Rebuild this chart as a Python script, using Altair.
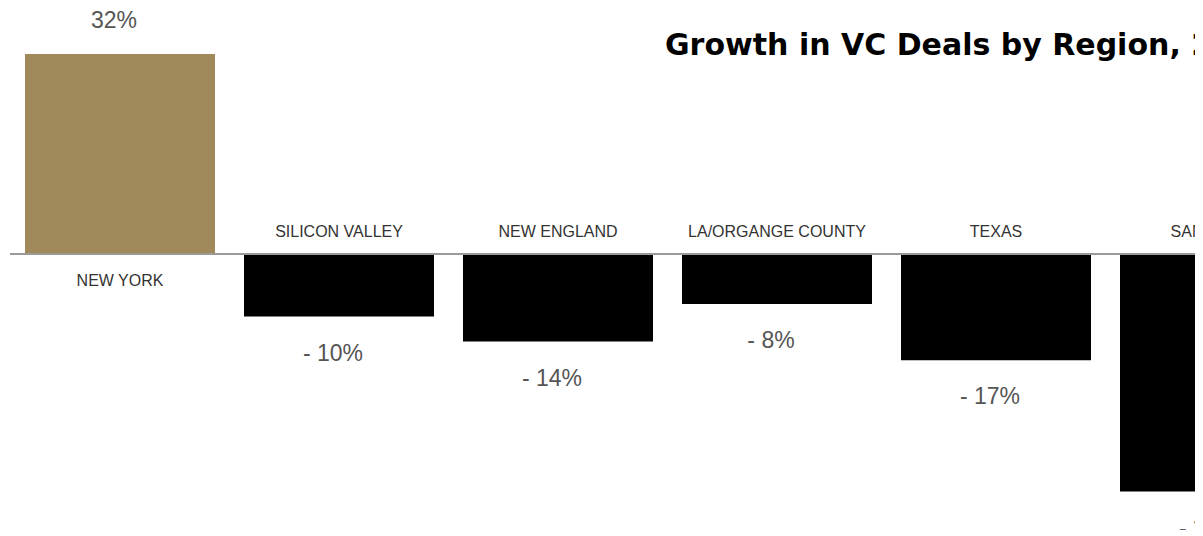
import altair as alt
import pandas as pd

regions = ["NEW YORK", "SILICON VALLEY", "NEW ENGLAND", "LA/ORGANGE COUNTY", "TEXAS", "SAN DIEGO"]
growth = [32, -10, -14, -8, -17, -38]
labels = ["32%", "- 10%", "- 14%", "- 8%", "- 17%", "- 38%"]
title_text = "Growth in VC Deals by Region, 2012"

df = pd.DataFrame({"region": regions, "growth": growth, "label": labels})

W, H = 1187, 522
xscale = alt.Scale(domain=regions, range=[17, 1302], paddingInner=29 / 219, paddingOuter=0)
yscale = alt.Scale(domain=[-(H - 246) / 6.25, 246 / 6.25], nice=False)

x = alt.X("region:N", scale=xscale, sort=regions, axis=None)
base = alt.Chart(df)

bars = base.mark_bar(clip=True).encode(
    x=x,
    y=alt.Y("growth:Q", scale=yscale, axis=None),
    color=alt.condition(alt.datum.growth > 0, alt.value("#A08A5C"), alt.value("#000000")),
)

zero = base.mark_rule(color="#9a9a9a", strokeWidth=2, clip=True).encode(
    x=alt.value(2), x2=alt.value(W), y=alt.datum(0, scale=yscale)
)

txt_val = dict(font="Liberation Sans", fontSize=23, color="#555555",
               baseline="middle", align="center")
val_pos = base.transform_filter(alt.datum.growth > 0).mark_text(dy=-33, dx=-6, **txt_val).encode(
    x=x, y=alt.Y("growth:Q", scale=yscale), text="label:N")
val_neg = base.transform_filter(alt.datum.growth < 0).mark_text(dy=37, dx=-6, **txt_val).encode(
    x=x, y=alt.Y("growth:Q", scale=yscale), text="label:N")

txt_cat = dict(font="Liberation Sans", fontSize=16, color="#333333", clip=True, baseline="middle", align="center")
cat_pos = base.transform_filter(alt.datum.growth > 0).mark_text(dy=27, **txt_cat).encode(
    x=x, y=alt.datum(0, scale=yscale), text="region:N")
cat_neg = base.transform_filter(alt.datum.growth < 0).mark_text(dy=-22, **txt_cat).encode(
    x=x, y=alt.datum(0, scale=yscale), text="region:N")

title = alt.Chart(pd.DataFrame({"t": [title_text]})).mark_text(
    font="DejaVu Sans", fontWeight="bold", fontSize=30, color="#000000", align="left",
    baseline="alphabetic", clip=True
).encode(x=alt.value(657), y=alt.value(47), text="t:N")

chart = alt.layer(bars, zero, val_pos, val_neg, cat_pos, cat_neg, title).properties(
    width=W, height=H, padding=0, autosize=alt.AutoSizeParams(type="none")
).configure_view(stroke=None)

chart.save("out.html", embed_options={"renderer": "svg", "actions": False})
